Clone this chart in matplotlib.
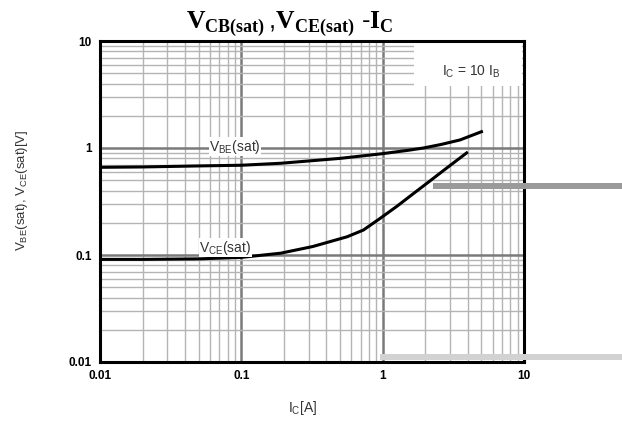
import matplotlib
matplotlib.use("Agg")
import matplotlib.pyplot as plt
from matplotlib.ticker import LogLocator, FixedLocator, NullFormatter
from matplotlib.patches import Rectangle

# ---- data ----
ic_vbe = [0.01, 0.02, 0.05, 0.1, 0.19, 0.5, 0.96, 1.5, 1.94, 2.6, 3.53, 5.0]
vbe = [0.66, 0.665, 0.68, 0.69, 0.72, 0.80, 0.88, 0.95, 1.0, 1.08, 1.19, 1.42]

ic_vce = [0.01, 0.02, 0.05, 0.1, 0.19, 0.32, 0.56, 0.73, 0.96, 1.26, 1.65, 2.16, 2.84, 3.93]
vce = [0.091, 0.091, 0.092, 0.095, 0.104, 0.12, 0.148, 0.171, 0.22, 0.285, 0.375, 0.492, 0.65, 0.90]

x_ticks = [0.01, 0.1, 1, 10]
x_ticklabels = ["0.01", "0.1", "1", "10"]
y_ticks = [0.01, 0.1, 1, 10]
y_ticklabels = ["0.01", "0.1", "1", "10"]

title = r"$\mathbf{V}_{\mathbf{CB(sat)}}\,$,$\mathbf{V}_{\mathbf{CE(sat)}}$ -$\mathbf{I}_{\mathbf{C}}$"

plt.rcParams['font.family'] = ['Liberation Sans', 'DejaVu Sans']
plt.rcParams['mathtext.fontset'] = 'custom'
plt.rcParams['mathtext.rm'] = 'Liberation Sans'
plt.rcParams['mathtext.it'] = 'Liberation Sans'
plt.rcParams['mathtext.bf'] = 'Liberation Serif:bold'

fig = plt.figure(figsize=(6.22, 4.26), dpi=100)
ax = fig.add_axes([100/622, 1-362/426, 424/622, 321/426])
ax.set_xscale('log')
ax.set_yscale('log')
ax.set_xlim(0.01, 10)
ax.set_ylim(0.01, 10)

ax.xaxis.set_major_locator(FixedLocator(x_ticks))
ax.yaxis.set_major_locator(FixedLocator(y_ticks))
ax.set_xticklabels(x_ticklabels, fontsize=8.5, fontweight='bold')
ax.set_yticklabels(y_ticklabels, fontsize=8.5, fontweight='bold')
ax.xaxis.set_minor_locator(LogLocator(base=10, subs=range(2, 10)))
ax.yaxis.set_minor_locator(LogLocator(base=10, subs=range(2, 10)))
ax.xaxis.set_minor_formatter(NullFormatter())
ax.yaxis.set_minor_formatter(NullFormatter())
ax.tick_params(which='both', length=0, pad=6)

ax.grid(which='major', color='#7a7a7a', lw=1.8, zorder=0)
ax.grid(which='minor', color='#b4b4b4', lw=1.0, zorder=0)
ax.set_axisbelow(True)
for s in ax.spines.values():
    s.set_linewidth(2.2)
    s.set_color('black')
    s.set_zorder(5)

# white box behind annotation
ax.add_patch(Rectangle((0.74, 0.86), 0.255, 0.135, transform=ax.transAxes,
                       facecolor='white', edgecolor='none', zorder=1))
ax.text(0.876, 0.905, r"I$_{\mathrm{C}}$ = 10 I$_{\mathrm{B}}$", transform=ax.transAxes,
        fontsize=10, color='#333333', ha='center', va='center', zorder=2)

ax.plot(ic_vbe, vbe, color='black', lw=2.2, zorder=3)
ax.plot(ic_vce, vce, color='black', lw=2.2, zorder=3)

ax.text(0.09, 1.03, r"V$_{\mathrm{BE}}$(sat)", fontsize=10, color='#333333',
        ha='center', va='center', zorder=4,
        bbox=dict(facecolor='white', edgecolor='none', pad=0.3))
ax.text(0.077, 0.117, r"V$_{\mathrm{CE}}$(sat)", fontsize=10, color='#333333',
        ha='center', va='center', zorder=4,
        bbox=dict(facecolor='white', edgecolor='none', pad=0.3))

fig.text(290/622, 1-24/426, title, fontsize=18.5, ha='center', va='center')
fig.text(22/622, 1-190/426, r"V$_{\mathrm{BE}}$(sat), V$_{\mathrm{CE}}$(sat)[V]",
         rotation=90, fontsize=9.5, color='#333333', ha='center', va='center')
fig.text(303/622, 1-408/426, r"I$_{\mathrm{C}}$[A]", fontsize=10, color='#333333',
         ha='center', va='center')

# scan artefacts (grey bars) seen in the reference
fig.patches.append(Rectangle((433/622, 1-189/426), (622-433)/622, 6/426,
                             transform=fig.transFigure, facecolor='#9a9a9a',
                             edgecolor='none', zorder=10))
fig.patches.append(Rectangle((380/622, 1-360/426), (622-380)/622, 6/426,
                             transform=fig.transFigure, facecolor='#d2d2d2',
                             edgecolor='none', zorder=10))

fig.savefig("out.png", dpi=100)
